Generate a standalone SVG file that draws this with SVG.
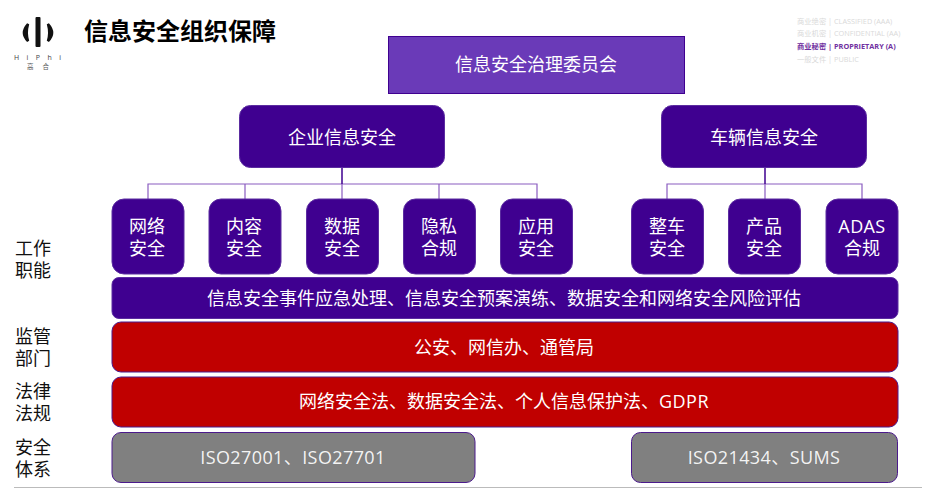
<svg xmlns="http://www.w3.org/2000/svg" width="932" height="488" viewBox="0 0 932 488">
<style>
text{font-family:"Open Sans","Noto Sans CJK SC",sans-serif;text-anchor:middle}
.w{fill:#fff;font-size:18px}
.box{fill:#3f0090;stroke:#5b2ca0;stroke-width:1}
.red{fill:#c00000;stroke:#4b1a8c;stroke-width:1}
.gray{fill:#808080;stroke:#4b1a8c;stroke-width:1}
.lab{fill:#111;font-size:18px}
.c{fill:none;stroke:#8a5cc0;stroke-width:1.2}
.s{font-size:7.300px;fill:#d9d9d9;text-anchor:start}
</style>
<rect width="932" height="488" fill="#fff"/>
<g id="logo">
<rect x="35.500" y="17" width="5" height="30" rx="1" fill="#111"/>
<path d="M28 24Q20 33 28 41Q25.500 33 28 24Z" fill="#111" stroke="#111" stroke-width="2.500"/>
<path d="M48 24Q56 33 48 41Q50.500 33 48 24Z" fill="#111" stroke="#111" stroke-width="2.500"/>
<text x="14" y="60" font-size="7" style="text-anchor:start" textLength="47" fill="#444">HiPhi</text>
<text x="27" y="69" font-size="6.500" style="text-anchor:start" textLength="22" fill="#555">高合</text>
</g>
<text id="title" x="180" y="40" font-size="24" font-weight="700" fill="#000">信息安全组织保障</text>
<g id="classification">
<text class="s" x="797" y="24">商业绝密 | CLASSIFIED  (AAA)</text>
<text class="s" x="797" y="36">商业机密 | CONFIDENTIAL (AA)</text>
<text class="s" x="797" y="49" style="fill:#7030a0;font-weight:700">商业秘密 | PROPRIETARY (A)</text>
<text class="s" x="797" y="62">一般文件 | PUBLIC</text>
</g>
<g id="connectors">
<path class="c" d="M148 199V184H537V199M245 184V199M342 184V199M439 184V199"/>
<path class="c" d="M667 199V184H862V199M765 184V199"/>
<path d="M342 168V184M765 168V184" fill="none" stroke="#3f0090" stroke-width="1.500"/>
</g>
<g id="n-committee"><rect x="388.500" y="36.500" width="296" height="57" fill="#6a3ab8" stroke="#3f0090"/><text class="w" x="536" y="71">信息安全治理委员会</text></g>
<g id="n-ent"><rect class="box" x="239.500" y="105.500" width="205" height="62" rx="11"/><text class="w" x="342" y="144">企业信息安全</text></g>
<g id="n-veh"><rect class="box" x="661.500" y="105.500" width="205" height="62" rx="11"/><text class="w" x="764" y="144">车辆信息安全</text></g>
<g id="n1"><rect class="box" x="112" y="199" width="72" height="75" rx="12"/><text class="w"><tspan x="147" y="233">网络</tspan><tspan x="147" y="255">安全</tspan></text></g>
<g id="n2"><rect class="box" x="209" y="199" width="72" height="75" rx="12"/><text class="w"><tspan x="244" y="233">内容</tspan><tspan x="244" y="255">安全</tspan></text></g>
<g id="n3"><rect class="box" x="306.500" y="199" width="72" height="75" rx="12"/><text class="w"><tspan x="342" y="233">数据</tspan><tspan x="342" y="255">安全</tspan></text></g>
<g id="n4"><rect class="box" x="403.500" y="199" width="72" height="75" rx="12"/><text class="w"><tspan x="439" y="233">隐私</tspan><tspan x="439" y="255">合规</tspan></text></g>
<g id="n5"><rect class="box" x="500.500" y="199" width="72" height="75" rx="12"/><text class="w"><tspan x="536" y="233">应用</tspan><tspan x="536" y="255">安全</tspan></text></g>
<g id="n6"><rect class="box" x="631.500" y="199" width="72" height="75" rx="12"/><text class="w"><tspan x="667" y="233">整车</tspan><tspan x="667" y="255">安全</tspan></text></g>
<g id="n7"><rect class="box" x="728.500" y="199" width="72" height="75" rx="12"/><text class="w"><tspan x="764" y="233">产品</tspan><tspan x="764" y="255">安全</tspan></text></g>
<g id="n8"><rect class="box" x="826" y="199" width="72" height="75" rx="12"/><text class="w"><tspan x="862" y="233" letter-spacing=".4">ADAS</tspan><tspan x="862" y="255">合规</tspan></text></g>
<g id="bar1"><rect class="box" x="112" y="277.500" width="786" height="41" rx="7"/><text class="w" x="504" y="305">信息安全事件应急处理、信息安全预案演练、数据安全和网络安全风险评估</text></g>
<g id="bar2"><rect class="red" x="112" y="322" width="786" height="50" rx="9"/><text class="w" x="504" y="354">公安、网信办、通管局</text></g>
<g id="bar3"><rect class="red" x="112" y="377" width="786" height="50" rx="9"/><text class="w" x="504" y="408">网络安全法、数据安全法、个人信息保护法、<tspan letter-spacing=".5">GDPR</tspan></text></g>
<g id="bar4"><rect class="gray" x="112" y="432.500" width="363" height="50" rx="9"/><text class="w" x="293" y="464" fill-opacity=".92" letter-spacing=".4">ISO27001、ISO27701</text></g>
<g id="bar5"><rect class="gray" x="631.500" y="432.500" width="266" height="50" rx="9"/><text class="w" x="764" y="464" fill-opacity=".92" letter-spacing=".4">ISO21434、SUMS</text></g>
<g id="labels">
<text class="lab"><tspan x="33" y="255">工作</tspan><tspan x="33" y="277">职能</tspan></text>
<text class="lab"><tspan x="33" y="343">监管</tspan><tspan x="33" y="365">部门</tspan></text>
<text class="lab"><tspan x="33" y="398">法律</tspan><tspan x="33" y="420">法规</tspan></text>
<text class="lab"><tspan x="33" y="454">安全</tspan><tspan x="33" y="476">体系</tspan></text>
</g>
<path d="M14 487.500H922" stroke="#bbb" stroke-width="1"/>
</svg>
